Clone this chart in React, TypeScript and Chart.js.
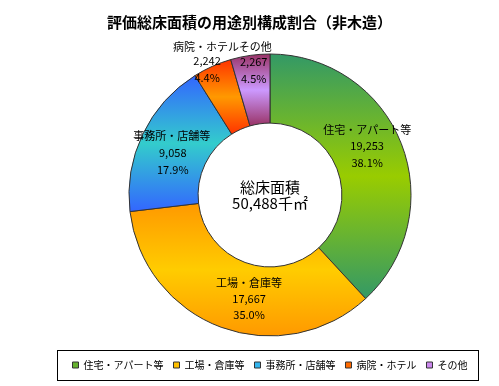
import React, { useEffect, useRef } from 'react';
import { Chart, registerables } from 'chart.js';

Chart.register(...registerables);

const TITLE = '評価総床面積の用途別構成割合（非木造）';
const categories = ['住宅・アパート等', '工場・倉庫等', '事務所・店舗等', '病院・ホテル', 'その他'];
const values = [19253, 17667, 9058, 2242, 2267];
const centerLines = ['総床面積', '50,488千㎡'];

// styles
const gradientDark = ['#339966', '#ff9900', '#3366ff', '#ff3300', '#993366'];
const gradientLight = ['#99cc00', '#ffcc00', '#33cccc', '#ff9900', '#cc99ff'];
const legendColors = ['#66b22e', '#ffc000', '#33b5ee', '#ff6a00', '#cc88ee'];
// label placement: angle shift from slice mid-angle (deg), radius (px), name dx, name dy, pct dy
const labelAngleShift = [-5.6, -8.9, -2.1, -1.0, 1.1];
const labelRadius = [109, 106, 106, 148, 134];
const nameDx = [0, 0, -1, -1, 1.5];
const nameDy = [-16, -16, -17, -14, -15];
const pctDy = [17, 16, 17, 17, 17];

const FONT = '"Noto Sans CJK JP", "Noto Sans", sans-serif';

const gradientPlugin = {
  id: 'segGradient',
  beforeDatasetsDraw(chart: any) {
    const ctx = chart.ctx;
    const meta = chart.getDatasetMeta(0);
    meta.data.forEach((el: any, i: number) => {
      const p = el.getProps(['x', 'y', 'startAngle', 'endAngle', 'innerRadius', 'outerRadius'], true);
      let minY = Infinity;
      let maxY = -Infinity;
      const N = 90;
      for (let k = 0; k <= N; k++) {
        const a = p.startAngle + ((p.endAngle - p.startAngle) * k) / N;
        for (const r of [p.innerRadius, p.outerRadius]) {
          const yy = p.y + r * Math.sin(a);
          if (yy < minY) minY = yy;
          if (yy > maxY) maxY = yy;
        }
      }
      const g = ctx.createLinearGradient(0, minY, 0, maxY);
      g.addColorStop(0, gradientDark[i]);
      g.addColorStop(0.5, gradientLight[i]);
      g.addColorStop(1, gradientDark[i]);
      el.options = Object.assign({}, el.options, { backgroundColor: g });
    });
  },
};

const labelPlugin = {
  id: 'sliceLabels',
  afterDatasetsDraw(chart: any) {
    const ctx = chart.ctx;
    const meta = chart.getDatasetMeta(0);
    const data: number[] = chart.data.datasets[0].data;
    const total = data.reduce((s, v) => s + v, 0);
    ctx.save();
    ctx.fillStyle = '#000';
    ctx.textAlign = 'center';
    ctx.textBaseline = 'middle';
    ctx.font = `11px ${FONT}`;
    meta.data.forEach((el: any, i: number) => {
      const p = el.getProps(['x', 'y', 'startAngle', 'endAngle'], true);
      const mid = (p.startAngle + p.endAngle) / 2 + (labelAngleShift[i] * Math.PI) / 180;
      const ax = p.x + labelRadius[i] * Math.cos(mid);
      const ay = p.y + labelRadius[i] * Math.sin(mid);
      const pct = ((data[i] / total) * 100).toFixed(1) + '%';
      ctx.fillText(chart.data.labels[i], ax + nameDx[i], ay + nameDy[i]);
      ctx.fillText(data[i].toLocaleString('en-US'), ax, ay);
      ctx.fillText(pct, ax, ay + pctDy[i]);
    });
    // center text
    const el0 = meta.data[0];
    if (el0) {
      const c = el0.getProps(['x', 'y'], true);
      ctx.font = `15px ${FONT}`;
      ctx.fillText(centerLines[0], c.x, c.y - 8);
      ctx.fillText(centerLines[1], c.x, c.y + 8);
    }
    ctx.restore();
  },
};

const framePlugin = {
  id: 'frameAndTitle',
  afterDraw(chart: any) {
    const ctx = chart.ctx;
    ctx.save();
    // title
    ctx.fillStyle = '#000';
    ctx.textAlign = 'center';
    ctx.textBaseline = 'middle';
    ctx.font = `bold 15px ${FONT}`;
    ctx.fillText(TITLE, chart.width / 2, 22);
    // legend frame
    const lg = chart.legend;
    if (lg && lg.legendHitBoxes && lg.legendHitBoxes.length) {
      const hb = lg.legendHitBoxes;
      const first = hb[0];
      const last = hb[hb.length - 1];
      const cy = first.top + first.height / 2;
      const left = Math.round(first.left - 16) + 0.5;
      const right = Math.round(last.left + last.width + 11) + 0.5;
      const top = Math.round(cy - 15) + 0.5;
      const bottom = Math.round(cy + 15) + 0.5;
      ctx.strokeStyle = '#000';
      ctx.lineWidth = 1;
      ctx.strokeRect(left, top, right - left, bottom - top);
    }
    ctx.restore();
  },
};

export default function App() {
  const ref = useRef<HTMLCanvasElement | null>(null);
  useEffect(() => {
    document.body.style.margin = '0';
    const canvas = ref.current;
    if (!canvas) return;
    const chart = new Chart(canvas, {
      type: 'doughnut',
      data: {
        labels: categories,
        datasets: [
          {
            data: values,
            backgroundColor: legendColors,
            borderColor: '#333333',
            borderWidth: 1,
          },
        ],
      },
      options: {
        responsive: false,
        animation: false,
        radius: 141,
        cutout: '51%',
        layout: { padding: { left: 41, right: 0, top: 40, bottom: 6 } },
        plugins: {
          title: { display: false },
          tooltip: { enabled: false },
          legend: {
            display: true,
            position: 'bottom',
            labels: {
              boxWidth: 6,
              boxHeight: 6,
              padding: 10,
              color: '#000',
              font: { size: 10, family: FONT },
              generateLabels: (ch: any) =>
                ch.data.labels.map((t: string, i: number) => ({
                  text: t,
                  fillStyle: legendColors[i],
                  strokeStyle: '#333333',
                  lineWidth: 1,
                  hidden: false,
                  index: i,
                })),
            },
          },
        },
      } as any,
      plugins: [gradientPlugin, labelPlugin, framePlugin],
    });
    return () => chart.destroy();
  }, []);
  return (
    <div style={{ width: 499, height: 386, background: '#fff' }}>
      <canvas ref={ref} width={499} height={386} style={{ display: 'block' }} />
    </div>
  );
}
